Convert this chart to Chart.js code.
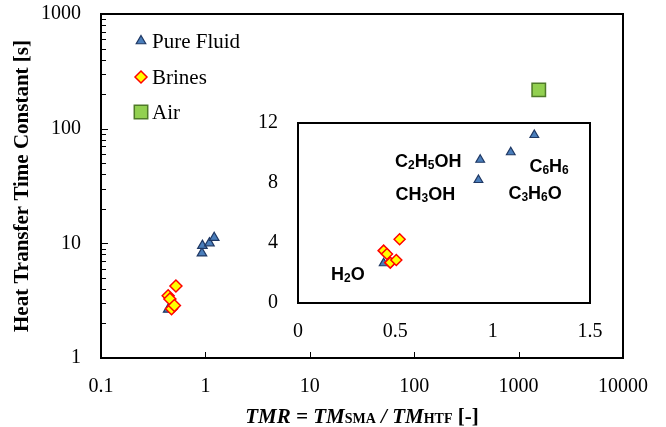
<!DOCTYPE html>
<html lang="en">
<head>
<meta charset="UTF-8" />
<title>Heat transfer time constant vs TMR</title>
<style>
  body { margin: 0; background: #fff; }
  #wrap { position: relative; width: 666px; height: 427px; }
  #mainChart { position: absolute; left: 0; top: 0; }
  #insetChart { position: absolute; left: 241px; top: 100px; }
</style>
</head>
<body>
<div id="wrap">
  <canvas id="mainChart" width="666" height="427"></canvas>
  <canvas id="insetChart" width="370" height="250"></canvas>
</div>
<script src="https://cdn.jsdelivr.net/npm/chart.js@4.4.0/dist/chart.umd.min.js"></script>
<script>
  // data
  const pureX = [0.44, 0.927, 0.936, 1.093, 1.214];
  const pureY = [2.65, 8.2, 9.55, 10.05, 11.2];
  const brineX = [0.44, 0.457, 0.474, 0.505, 0.522];
  const brineY = [3.49, 3.27, 2.69, 2.87, 4.25];
  const airX = [1560];
  const airY = [218];

  const xTicks = [0.1, 1, 10, 100, 1000, 10000];
  const xTickLabels = ['0.1', '1', '10', '100', '1000', '10000'];
  const yTicks = [1, 10, 100, 1000];
  const yTickLabels = ['1', '10', '100', '1000'];

  const insetXTicks = [0, 0.5, 1, 1.5];
  const insetXLabels = ['0', '0.5', '1', '1.5'];
  const insetYTicks = [0, 4, 8, 12];
  const insetYLabels = ['0', '4', '8', '12'];

  // fluid names in the inset, placed in inset data units
  const fluidNames = ['C2H5OH', 'CH3OH', 'C6H6', 'C3H6O', 'H2O'];
  const fluidNameX = [0.669, 0.654, 1.29, 1.218, 0.256];
  const fluidNameY = [9.53, 7.33, 9.2, 7.4, 2.0];

  const serif = '"Liberation Serif", "Times New Roman", serif';
  const sans = '"Liberation Sans", Arial, sans-serif';

  const blueFill = '#4a7ebb';
  const blueEdge = '#1f3864';

  function pts(xs, ys) {
    return xs.map((x, i) => ({ x: x, y: ys[i] }));
  }

  function drawRuns(ctx, runs, cx, baseY) {
    let w = 0;
    runs.forEach(r => { ctx.font = r.font; r.w = ctx.measureText(r.text).width; w += r.w; });
    let x = cx - w / 2;
    ctx.textAlign = 'left';
    ctx.textBaseline = 'alphabetic';
    runs.forEach(r => {
      ctx.font = r.font;
      ctx.fillText(r.text, x, baseY + (r.dy || 0));
      x += r.w;
    });
  }

  function drawFormula(ctx, text, cx, cy) {
    const runs = text.split('').map(c => {
      const sub = /\d/.test(c);
      return {
        text: c,
        font: sub ? 'bold 12px ' + sans : 'bold 18px ' + sans,
        dy: sub ? 2 : 0
      };
    });
    drawRuns(ctx, runs, cx, cy + 6.5);
  }

  // keep the plot box where the layout padding puts it
  function fixX(h) {
    return s => { s.height = h; s.paddingLeft = 0; s.paddingRight = 0; };
  }
  function fixY(w) {
    return s => { s.width = w; s.paddingTop = 0; s.paddingBottom = 0; };
  }

  const mainDecor = {
    id: 'mainDecor',
    afterDraw(chart) {
      const ctx = chart.ctx;
      const a = chart.chartArea;
      const xs = chart.scales.x;
      const ys = chart.scales.y;
      ctx.save();
      ctx.strokeStyle = '#000';
      ctx.lineWidth = 1;
      ctx.beginPath();
      xTicks.slice(1, -1).forEach(v => {
        const px = Math.round(xs.getPixelForValue(v)) + 0.5;
        ctx.moveTo(px, a.bottom);
        ctx.lineTo(px, a.bottom - 6);
      });
      for (let d = 1; d < 1000; d *= 10) {
        for (let m = 1; m <= 10; m++) {
          const v = d * m;
          if (v <= 1 || v >= 1000) continue;
          const py = Math.round(ys.getPixelForValue(v)) + 0.5;
          ctx.moveTo(a.left, py);
          ctx.lineTo(a.left + (m === 10 ? 7 : 5), py);
        }
      }
      ctx.stroke();

      ctx.lineWidth = 2;
      ctx.strokeRect(a.left, a.top, a.right - a.left, a.bottom - a.top);

      // legend
      const rows = [41, 77, 112];
      chart.data.datasets.forEach((ds, i) => {
        const opts = {
          pointStyle: ds.pointStyle,
          radius: ds.legendRadius,
          borderWidth: ds.borderWidth
        };
        ctx.fillStyle = ds.backgroundColor;
        ctx.strokeStyle = ds.borderColor;
        ctx.lineWidth = ds.borderWidth;
        Chart.helpers.drawPoint(ctx, opts, 141, rows[i]);
        ctx.fillStyle = '#000';
        ctx.font = '21px ' + serif;
        ctx.textAlign = 'left';
        ctx.textBaseline = 'middle';
        ctx.fillText(ds.label, 152, rows[i] + 1);
      });

      // axis titles
      ctx.fillStyle = '#000';
      const bi = 'italic bold 21px ' + serif;
      const bs = 'bold 14px ' + serif;
      drawRuns(ctx, [
        { text: 'TMR = TM', font: bi },
        { text: 'SMA', font: bs },
        { text: ' / TM', font: bi },
        { text: 'HTF', font: bs },
        { text: ' [-]', font: 'bold 21px ' + serif }
      ], (a.left + a.right) / 2, 423);

      ctx.translate(23, (a.top + a.bottom) / 2);
      ctx.rotate(-Math.PI / 2);
      ctx.font = 'bold 21px ' + serif;
      ctx.textAlign = 'center';
      ctx.textBaseline = 'middle';
      ctx.fillText('Heat Transfer Time Constant [s]', 0, 0);
      ctx.restore();
    }
  };

  const insetDecor = {
    id: 'insetDecor',
    afterDraw(chart) {
      const ctx = chart.ctx;
      const a = chart.chartArea;
      ctx.save();
      ctx.strokeStyle = '#000';
      ctx.lineWidth = 2;
      ctx.strokeRect(a.left, a.top, a.right - a.left, a.bottom - a.top);
      ctx.fillStyle = '#000';
      fluidNames.forEach((name, i) => {
        drawFormula(ctx, name,
          chart.scales.x.getPixelForValue(fluidNameX[i]),
          chart.scales.y.getPixelForValue(fluidNameY[i]));
      });
      ctx.restore();
    }
  };

  function tickFont() {
    return { family: serif, size: 20 };
  }

  function datasets(triR, diaR) {
    return [
      {
        label: 'Pure Fluid', data: pts(pureX, pureY), pointStyle: 'triangle',
        pointRadius: triR, legendRadius: 5.5, backgroundColor: blueFill,
        borderColor: blueEdge, borderWidth: 1.2, order: 2
      },
      {
        label: 'Brines', data: pts(brineX, brineY), pointStyle: 'rectRot',
        pointRadius: diaR, legendRadius: 6, backgroundColor: '#ffff00',
        borderColor: '#ff0000', borderWidth: 1.5, order: 1
      },
      {
        label: 'Air', data: pts(airX, airY), pointStyle: 'rect',
        pointRadius: 9.5, legendRadius: 9.5, backgroundColor: '#92d050',
        borderColor: '#4f7a28', borderWidth: 1.5, order: 3
      }
    ];
  }

  new Chart(document.getElementById('mainChart'), {
    type: 'scatter',
    data: { datasets: datasets(5.5, 6) },
    options: {
      responsive: false,
      animation: false,
      layout: { padding: { left: 0, right: 43, top: 14, bottom: 0 } },
      plugins: { legend: { display: false }, tooltip: { enabled: false } },
      scales: {
        x: {
          type: 'logarithmic', min: 0.1, max: 10000,
          afterBuildTicks: s => { s.ticks = xTicks.map(v => ({ value: v })); },
          afterFit: fixX(69),
          grid: { display: false }, border: { display: false },
          ticks: {
            autoSkip: false, maxRotation: 0, padding: 9, color: '#000', font: tickFont(),
            callback: (v, i) => xTickLabels[i]
          }
        },
        y: {
          type: 'logarithmic', min: 1, max: 1000,
          afterBuildTicks: s => { s.ticks = yTicks.map(v => ({ value: v })); },
          afterFit: fixY(101),
          grid: { display: false }, border: { display: false },
          ticks: {
            autoSkip: false, padding: 12, color: '#000', font: tickFont(),
            callback: (v, i) => yTickLabels[i]
          }
        }
      }
    },
    plugins: [mainDecor]
  });

  new Chart(document.getElementById('insetChart'), {
    type: 'scatter',
    data: { datasets: datasets(5, 5.5).slice(0, 2) },
    options: {
      responsive: false,
      animation: false,
      layout: { padding: { left: 0, right: 21, top: 23, bottom: 0 } },
      plugins: { legend: { display: false }, tooltip: { enabled: false } },
      scales: {
        x: {
          type: 'linear', min: 0, max: 1.5,
          afterBuildTicks: s => { s.ticks = insetXTicks.map(v => ({ value: v })); },
          afterFit: fixX(47),
          grid: { display: false }, border: { display: false },
          ticks: {
            autoSkip: false, maxRotation: 0, padding: 9, color: '#000', font: tickFont(),
            callback: (v, i) => insetXLabels[i]
          }
        },
        y: {
          type: 'linear', min: 0, max: 12,
          afterBuildTicks: s => { s.ticks = insetYTicks.map(v => ({ value: v })); },
          afterFit: fixY(57),
          grid: { display: false }, border: { display: false },
          ticks: {
            autoSkip: false, padding: 12, color: '#000', font: tickFont(),
            callback: (v, i) => insetYLabels[i]
          }
        }
      }
    },
    plugins: [insetDecor]
  });
</script>
</body>
</html>
